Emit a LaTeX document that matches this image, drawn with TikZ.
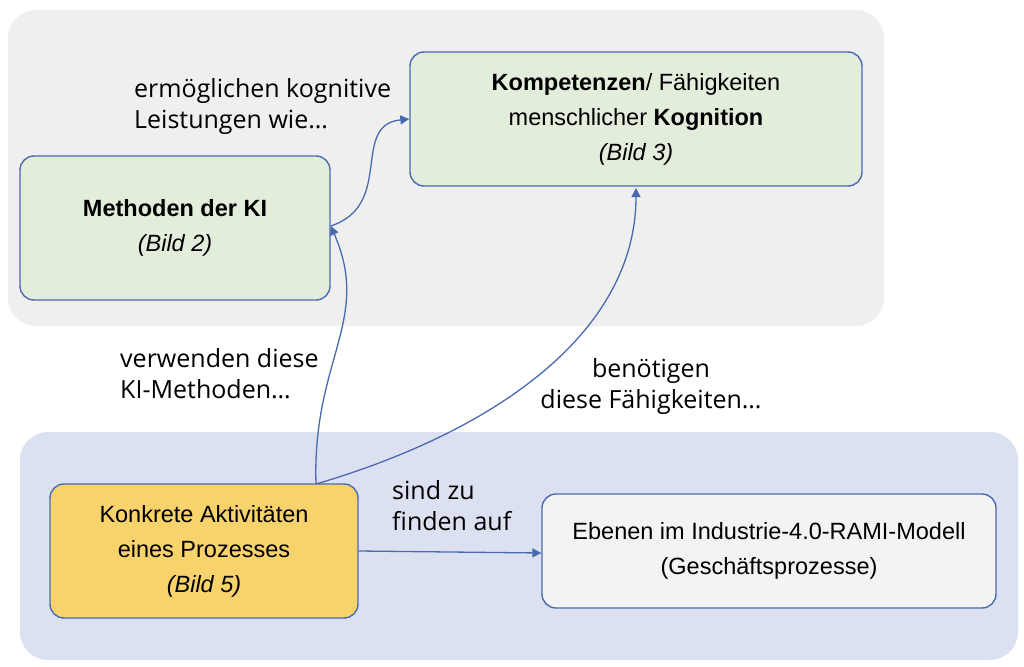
\documentclass[tikz,border=0pt]{standalone}
\usepackage{fontspec}
\setmainfont{Liberation Sans}
\newfontfamily\lbl{Open Sans}
\usetikzlibrary{arrows.meta}
\definecolor{edge}{HTML}{4A6AB0}
\definecolor{grbg}{HTML}{EFEFEF}
\definecolor{blbg}{HTML}{DCE1F2}
\definecolor{grn}{HTML}{E3EDDB}
\definecolor{yel}{HTML}{F8D36C}
\definecolor{lgr}{HTML}{F3F3F3}
\tikzset{
 box/.style={draw=edge,line width=1.4pt,rounded corners=14pt,align=center,font=\fontsize{23.5}{35}\selectfont,inner sep=0pt},
 lab/.style={align=left,font=\lbl\fontsize{25}{31}\selectfont,inner sep=0pt},
 con/.style={draw=edge,line width=1.3pt,-{Triangle[length=9pt,width=9pt]}}
}
\begin{document}
\begin{tikzpicture}[x=1pt,y=-1pt]
\useasboundingbox[fill=white] (0,0) rectangle (1024,666);
\fill[grbg,rounded corners=28pt] (8,10) rectangle (884,326);
\fill[blbg,rounded corners=28pt] (20,432) rectangle (1018,660);
\node[box,fill=grn,minimum width=452pt,minimum height=134pt] (komp) at (636,119)
 {\textbf{Kompetenzen}/ Fähigkeiten\\menschlicher \textbf{Kognition}\\\textit{(Bild 3)}};
\node[box,fill=grn,minimum width=310pt,minimum height=144pt] (meth) at (175,228)
 {\textbf{Methoden der KI}\\\textit{(Bild 2)}};
\node[box,fill=yel,minimum width=308pt,minimum height=134pt] (konk) at (204,551)
 {Konkrete Aktivitäten\\eines Prozesses\\\textit{(Bild 5)}};
\node[box,fill=lgr,minimum width=454pt,minimum height=114pt] (eben) at (769,551)
 {Ebenen im Industrie-4.0-RAMI-Modell\\(Geschäftsprozesse)};
\node[lab,anchor=north west] (l1) at (134,78) {ermöglichen kognitive\\Leistungen wie\dots};
\node[lab,anchor=north west] (l2) at (120,348) {verwenden diese\\KI-Methoden\dots};
\node[lab,anchor=north,align=center] (l3) at (651,358) {benötigen\\diese Fähigkeiten\dots};
\node[lab,anchor=north west] (l4) at (392,480) {sind zu\\finden auf};
\coordinate (ms) at ([yshift=2pt]meth.east);
\coordinate (ks) at (316,484);
\draw[con] (ms) .. controls (395,205) and (350,125) .. (komp.west);
\draw[con] (ks) .. controls (312,360) and (372,320) .. (ms);
\draw[con] (ks) .. controls (500,430) and (636,330) .. (636,188);
\draw[con] (konk.east) -- ([yshift=-2pt]eben.west);
\end{tikzpicture}
\end{document}
